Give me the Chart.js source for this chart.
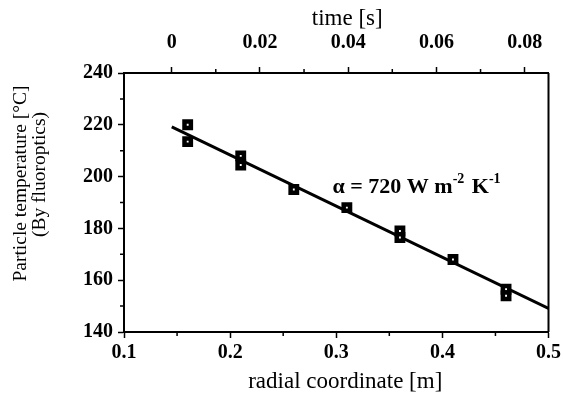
<!DOCTYPE html>
<html>
<head>
<meta charset="utf-8">
<script src="https://cdn.jsdelivr.net/npm/chart.js@4/dist/chart.umd.min.js"></script>
<style>
  html, body { margin: 0; padding: 0; background: #fff; }
  #wrap { width: 564px; height: 397px; position: relative; }
</style>
</head>
<body>
<div id="wrap"><canvas id="chart-canvas"></canvas></div>
<script>
// measured points (radial coordinate [m], particle temperature [C])
const radialPos = [0.16, 0.16, 0.21, 0.21, 0.26, 0.31, 0.36, 0.36, 0.41, 0.46, 0.46];
const particleTemp = [220, 213.5, 208, 204.5, 195, 188, 179, 176.5, 168, 156.5, 154];

// fitted line endpoints
const fitX = [0.145, 0.5];
const fitY = [219.2, 149.1];

// axis ranges and tick positions
const radialRange = [0.1, 0.5];
const timeRange = [-0.0108, 0.0854];
const tempRange = [140, 240];
const radialMinor = [0.15, 0.25, 0.35, 0.45];
const timeMinor = [0.01, 0.03, 0.05, 0.07];
const tempMinor = [150, 170, 190, 210, 230];

// titles
const xTitle = 'radial coordinate [m]';
const x2Title = 'time [s]';
const yTitle = ['Particle temperature [\u00B0C]', '(By fluoroptics)'];

// annotation anchor (data coords)
const alphaAt = {x: 0.2965, y: 193.8};

const serif = "'Liberation Serif', 'DejaVu Serif', serif";

function minor_ticks(chart){
  const ctx = chart.ctx;
  const area = chart.chartArea;
  const sx = chart.scales.x, sx2 = chart.scales.x2, sy = chart.scales.y;
  ctx.save();
  ctx.strokeStyle = '#000';
  ctx.lineWidth = 1.5;
  ctx.beginPath();
  radialMinor.forEach(v => {
    const px = sx.getPixelForValue(v);
    ctx.moveTo(px, area.bottom); ctx.lineTo(px, area.bottom + 4);
  });
  timeMinor.forEach(v => {
    const px = sx2.getPixelForValue(v);
    ctx.moveTo(px, area.top); ctx.lineTo(px, area.top - 4);
  });
  tempMinor.forEach(v => {
    const py = sy.getPixelForValue(v);
    ctx.moveTo(area.left, py); ctx.lineTo(area.left - 4, py);
  });
  ctx.stroke();
  // right edge of the frame
  ctx.lineWidth = 2;
  ctx.beginPath();
  ctx.moveTo(area.right, area.top);
  ctx.lineTo(area.right, area.bottom);
  ctx.stroke();
  ctx.restore();
}

function axis_titles(chart){
  const ctx = chart.ctx;
  const area = chart.chartArea;
  const cx = (area.left + area.right) / 2;
  const cy = (area.top + area.bottom) / 2;
  ctx.save();
  ctx.fillStyle = '#000';
  ctx.textAlign = 'center';
  ctx.textBaseline = 'middle';
  ctx.font = `23px ${serif}`;
  ctx.fillText(x2Title, cx + 11, area.top - 54);
  ctx.fillText(xTitle, cx + 9, area.bottom + 50);
  ctx.font = `19.5px ${serif}`;
  ctx.translate(area.left - 103, cy - 19);
  ctx.rotate(-Math.PI / 2);
  ctx.fillText(yTitle[0], 0, 0);
  ctx.fillText(yTitle[1], 9, 19);
  ctx.restore();
}

function alpha_label(chart){
  const ctx = chart.ctx;
  let x = chart.scales.x.getPixelForValue(alphaAt.x);
  const y = chart.scales.y.getPixelForValue(alphaAt.y);
  const parts = [
    ['\u03B1 = 720 W m', false],
    ['-2', true],
    [' K', false],
    ['-1', true]
  ];
  ctx.save();
  ctx.fillStyle = '#000';
  ctx.textBaseline = 'alphabetic';
  parts.forEach(([txt, sup]) => {
    ctx.font = sup ? `bold 14px ${serif}` : `bold 22px ${serif}`;
    ctx.fillText(txt, x, sup ? y - 10 : y);
    x += ctx.measureText(txt).width + (sup ? 2 : 0);
  });
  ctx.restore();
}

const tickFont = {family: serif, size: 20, weight: 'bold'};

const ctx = document.getElementById('chart-canvas');
const myChart = new Chart(ctx, {
  type: 'scatter',
  data: {
    datasets: [{
      label: 'fluoroptics',
      data: radialPos.map((x, i) => ({x: x, y: particleTemp[i]})),
      pointStyle: 'rect',
      pointRadius: 4.5,
      backgroundColor: '#fff',
      borderColor: '#000',
      borderWidth: 4.5,
      order: 1
    }, {
      label: 'fit',
      type: 'line',
      data: fitX.map((x, i) => ({x: x, y: fitY[i]})),
      borderColor: '#000',
      borderWidth: 3,
      pointRadius: 0,
      fill: false,
      order: 2
    }]
  },
  plugins: [{
    id: 'extras',
    afterDraw: function(chart){
      minor_ticks(chart);
      axis_titles(chart);
      alpha_label(chart);
    }
  }],
  options: {
    animation: false,
    responsive: true,
    maintainAspectRatio: false,
    layout: {
      padding: {left: 0, right: 14, top: 0, bottom: 0}
    },
    plugins: {
      legend: false,
      tooltip: false,
      title: {display: false}
    },
    scales: {
      x: {
        type: 'linear',
        position: 'bottom',
        min: radialRange[0],
        max: radialRange[1],
        afterFit: s => { s.height = 65; },
        grid: {drawOnChartArea: false, drawTicks: true, tickLength: 6, tickColor: '#000', tickWidth: 1.5},
        border: {display: true, color: '#000', width: 2},
        ticks: {
          stepSize: 0.1,
          color: '#000',
          font: tickFont,
          padding: 3,
          maxRotation: 0,
          callback: v => v.toFixed(1)
        }
      },
      x2: {
        type: 'linear',
        axis: 'x',
        position: 'top',
        min: timeRange[0],
        max: timeRange[1],
        afterFit: s => { s.height = 73; },
        grid: {drawOnChartArea: false, drawTicks: true, tickLength: 6, tickColor: '#000', tickWidth: 1.5},
        border: {display: true, color: '#000', width: 2},
        ticks: {
          stepSize: 0.02,
          includeBounds: false,
          color: '#000',
          font: tickFont,
          padding: 12,
          maxRotation: 0,
          callback: v => Math.abs(v) < 1e-9 ? '0' : v.toFixed(2)
        }
      },
      y: {
        type: 'linear',
        position: 'left',
        min: tempRange[0],
        max: tempRange[1],
        afterFit: s => { s.width = 124; },
        grid: {drawOnChartArea: false, drawTicks: true, tickLength: 6, tickColor: '#000', tickWidth: 1.5},
        border: {display: true, color: '#000', width: 2},
        ticks: {
          stepSize: 20,
          color: '#000',
          font: tickFont,
          padding: 5,
          callback: v => String(v)
        }
      }
    }
  }
});
</script>
</body>
</html>
